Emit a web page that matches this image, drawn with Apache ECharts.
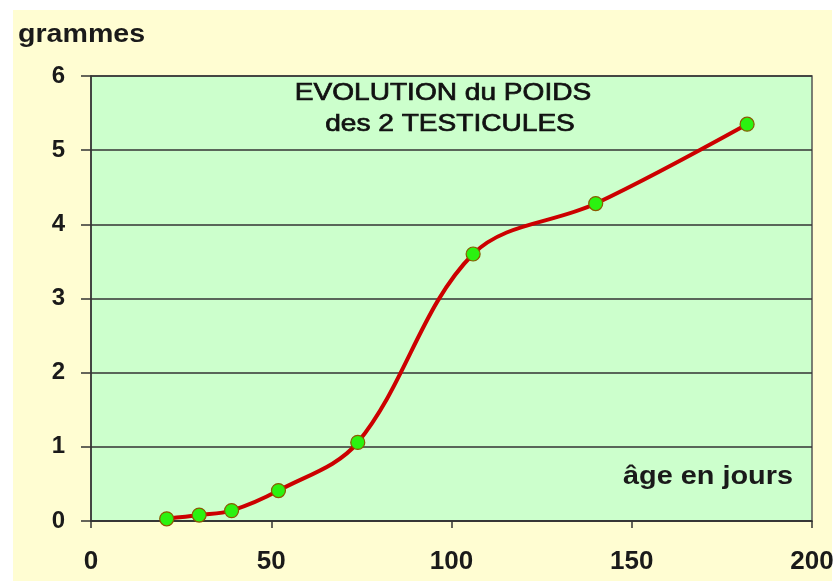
<!DOCTYPE html>
<html>
<head>
<meta charset="utf-8">
<script src="https://cdn.jsdelivr.net/npm/echarts@6/dist/echarts.min.js"></script>
<style>
html,body{margin:0;padding:0;background:#fff;}
#c{width:837px;height:581px;}
</style>
</head>
<body>
<div id="c"></div>
<script>
// Data
const ages = [21, 30, 39, 52, 74, 106, 140, 182];        // âge en jours
const poids = [0.03, 0.08, 0.14, 0.41, 1.06, 3.60, 4.28, 5.35]; // grammes
const titleLines = ["EVOLUTION du POIDS", "des 2 TESTICULES"];
const yAxisTitle = "grammes";
const xAxisTitle = "âge en jours";
const xTicks = {min: 0, max: 200, interval: 50};
const yTicks = {min: 0, max: 6, interval: 1};

const chart = echarts.init(document.getElementById('c'), null, {renderer: 'canvas'});
const FONT = '"Liberation Sans", Arial, sans-serif';

chart.setOption({
  animation: false,
  backgroundColor: '#ffffff',
  graphic: [
    {type: 'rect', z: -10, shape: {x: 13, y: 10, width: 819, height: 580}, style: {fill: '#FFFDD2'}, silent: true},
    {type: 'text', z: 10, x: 18, y: 35, scaleX: 1.1, style: {text: yAxisTitle, font: 'bold 26px ' + FONT, fill: '#1a1a1a', textAlign: 'left', textVerticalAlign: 'middle'}},
    {type: 'text', z: 10, x: 708, y: 477, scaleX: 1.11, style: {text: xAxisTitle, font: 'bold 26px ' + FONT, fill: '#1a1a1a', textAlign: 'center', textVerticalAlign: 'middle'}},
    {type: 'text', z: 10, x: 443, y: 93, scaleX: 1.17, style: {text: titleLines[0], font: '24px ' + FONT, fill: '#111111', stroke: '#111111', lineWidth: 0.7, textAlign: 'center', textVerticalAlign: 'middle'}},
    {type: 'text', z: 10, x: 450, y: 124, scaleX: 1.17, style: {text: titleLines[1], font: '24px ' + FONT, fill: '#111111', stroke: '#111111', lineWidth: 0.7, textAlign: 'center', textVerticalAlign: 'middle'}}
  ],
  grid: {
    left: 91, top: 76, right: 25, bottom: 60,
    show: true, backgroundColor: '#CCFFCC', borderColor: '#555555', borderWidth: 1.5
  },
  xAxis: {
    type: 'value', min: xTicks.min, max: xTicks.max, interval: xTicks.interval,
    axisLine: {show: true, onZero: false, lineStyle: {color: '#333333', width: 1.5}},
    axisTick: {show: true, inside: false, length: 7, lineStyle: {color: '#333333', width: 1.5}},
    splitLine: {show: false},
    axisLabel: {margin: 28, fontSize: 26, fontWeight: 'bold', fontFamily: FONT, color: '#1a1a1a'}
  },
  yAxis: {
    type: 'value', min: yTicks.min, max: yTicks.max, interval: yTicks.interval,
    axisLine: {show: true, onZero: false, lineStyle: {color: '#333333', width: 1.5}},
    axisTick: {show: true, inside: false, length: 10, lineStyle: {color: '#333333', width: 1.5}},
    splitLine: {show: true, lineStyle: {color: '#333333', width: 1.5}},
    axisLabel: {margin: 26, fontSize: 24, fontWeight: 'bold', fontFamily: FONT, color: '#1a1a1a'}
  },
  series: [{
    type: 'line',
    data: ages.map((a, i) => [a, poids[i]]),
    smooth: 0.35,
    symbol: 'circle',
    symbolSize: 14,
    lineStyle: {color: '#CC0000', width: 4},
    itemStyle: {color: '#2BF210', borderColor: '#8A5A00', borderWidth: 1.2},
    z: 5
  }]
});
</script>
</body>
</html>
